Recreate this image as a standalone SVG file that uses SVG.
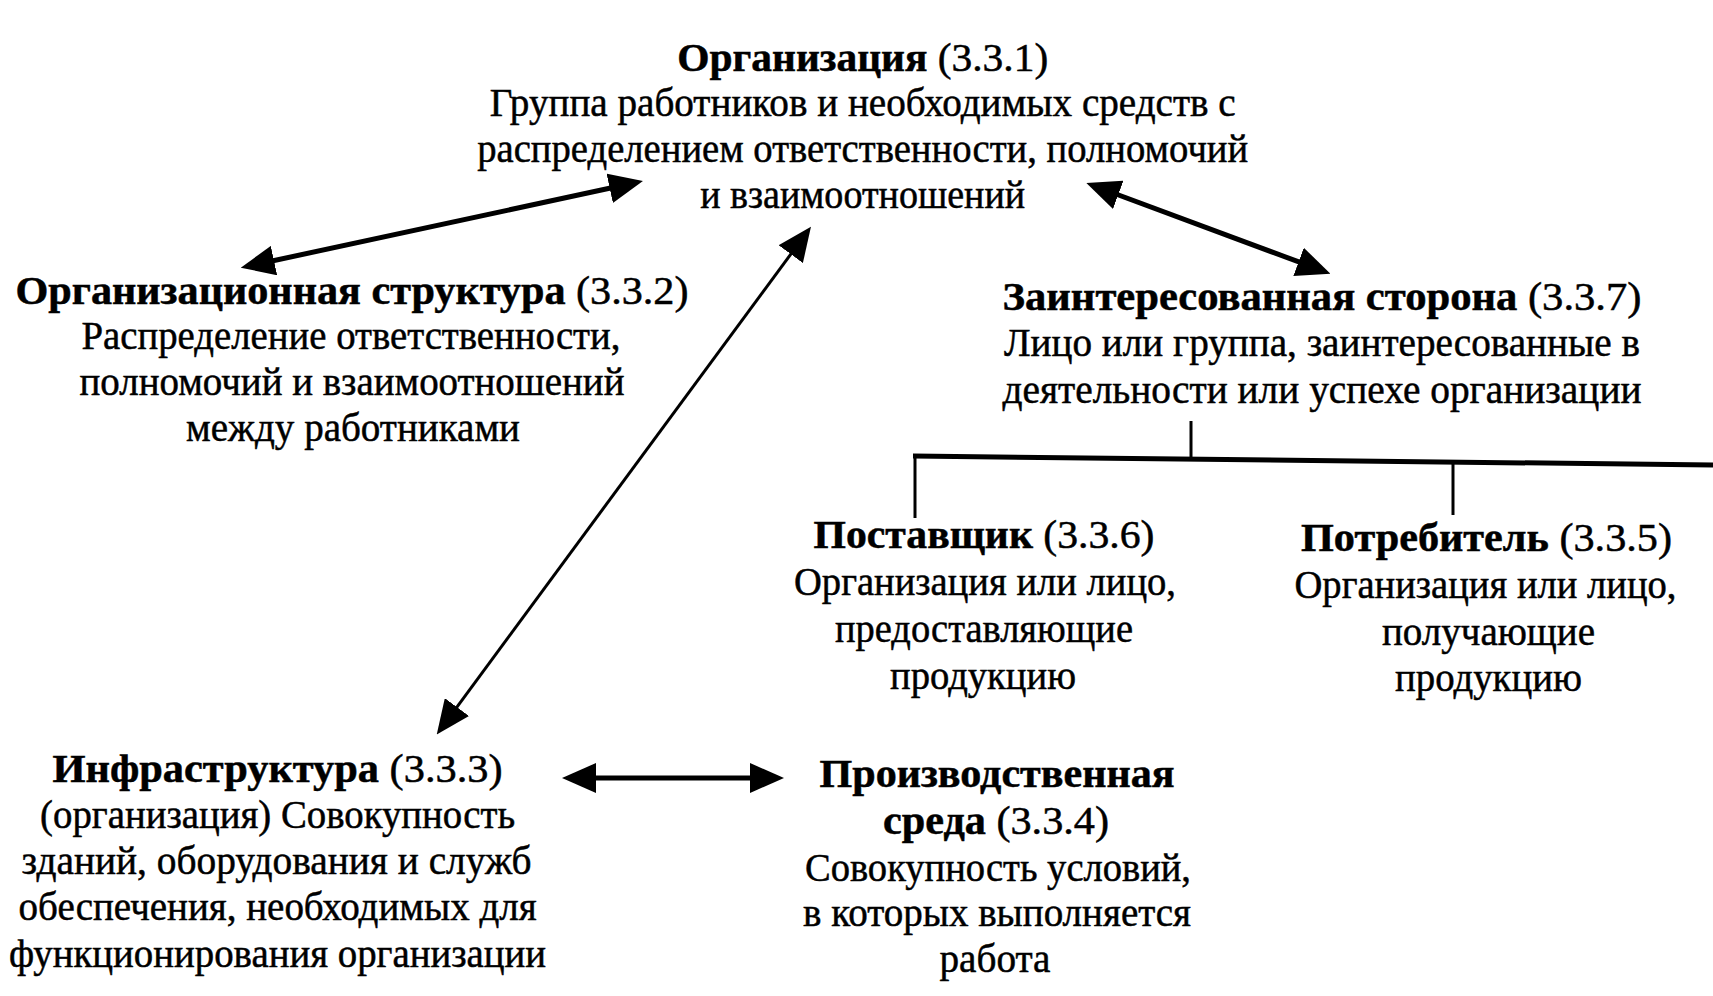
<svg xmlns="http://www.w3.org/2000/svg" width="1713" height="996" viewBox="0 0 1713 996">
<style>
text{font-family:"Liberation Serif","Times New Roman",serif;font-size:40px;fill:#000;stroke:#000;stroke-width:0.5;text-anchor:middle}
.b{font-weight:bold}
.c{stroke:#000;fill:none}
.thick{stroke-width:5}
.thin{stroke-width:3}
</style>
<defs>
<marker id="ah" viewBox="0 0 34 30" markerWidth="34" markerHeight="30" refX="14" refY="15" orient="auto-start-reverse" markerUnits="userSpaceOnUse">
<path d="M0,0 L34,15 L0,30 Z" fill="#000"/>
</marker>
</defs>
<rect width="1713" height="996" fill="#fff"/>
<g id="connectors">
<line class="c thick" x1="260.3" y1="263.5" x2="623.4" y2="185.3" marker-start="url(#ah)" marker-end="url(#ah)"/>
<line class="c thick" x1="1105.1" y1="190" x2="1311.7" y2="266.7" marker-start="url(#ah)" marker-end="url(#ah)"/>
<line class="c thin" x1="799.1" y1="242.9" x2="448.6" y2="718.3" marker-start="url(#ah)" marker-end="url(#ah)"/>
<line class="c thick" x1="582" y1="778" x2="764" y2="778" marker-start="url(#ah)" marker-end="url(#ah)"/>
<line class="c thin" x1="1191" y1="421" x2="1191" y2="458"/>
<line class="c thick" x1="913" y1="456" x2="1713" y2="465"/>
<line class="c thin" x1="915" y1="455" x2="915" y2="518"/>
<line class="c thin" x1="1453" y1="462" x2="1453" y2="515"/>
</g>
<g id="organization">
<text x="862.7" y="70.6" textLength="371" lengthAdjust="spacingAndGlyphs"><tspan class="b">Организация</tspan> (3.3.1)</text>
<text x="862.7" y="116.4" textLength="746" lengthAdjust="spacingAndGlyphs">Группа работников и необходимых средств с</text>
<text x="862.7" y="162.2" textLength="771" lengthAdjust="spacingAndGlyphs">распределением ответственности, полномочий</text>
<text x="862.7" y="208" textLength="325" lengthAdjust="spacingAndGlyphs">и взаимоотношений</text>
</g>
<g id="org-structure">
<text x="352" y="303.5" textLength="673" lengthAdjust="spacingAndGlyphs"><tspan class="b">Организационная структура</tspan> (3.3.2)</text>
<text x="351" y="349" textLength="539" lengthAdjust="spacingAndGlyphs">Распределение ответственности,</text>
<text x="352" y="395" textLength="545" lengthAdjust="spacingAndGlyphs">полномочий и взаимоотношений</text>
<text x="353" y="441" textLength="334" lengthAdjust="spacingAndGlyphs">между работниками</text>
</g>
<g id="interested-party">
<text x="1322" y="309.5" textLength="639" lengthAdjust="spacingAndGlyphs"><tspan class="b">Заинтересованная сторона</tspan> (3.3.7)</text>
<text x="1322" y="356" textLength="636" lengthAdjust="spacingAndGlyphs">Лицо или группа, заинтересованные в</text>
<text x="1322" y="403" textLength="639" lengthAdjust="spacingAndGlyphs">деятельности или успехе организации</text>
</g>
<g id="supplier">
<text x="984" y="548" textLength="341" lengthAdjust="spacingAndGlyphs"><tspan class="b">Поставщик</tspan> (3.3.6)</text>
<text x="985" y="595" textLength="382" lengthAdjust="spacingAndGlyphs">Организация или лицо,</text>
<text x="984" y="642" textLength="298" lengthAdjust="spacingAndGlyphs">предоставляющие</text>
<text x="983" y="688.5" textLength="186" lengthAdjust="spacingAndGlyphs">продукцию</text>
</g>
<g id="consumer">
<text x="1486.5" y="551" textLength="371" lengthAdjust="spacingAndGlyphs"><tspan class="b">Потребитель</tspan> (3.3.5)</text>
<text x="1485.5" y="598" textLength="382" lengthAdjust="spacingAndGlyphs">Организация или лицо,</text>
<text x="1488.5" y="645" textLength="213" lengthAdjust="spacingAndGlyphs">получающие</text>
<text x="1488.5" y="690.5" textLength="187" lengthAdjust="spacingAndGlyphs">продукцию</text>
</g>
<g id="infrastructure">
<text x="277.6" y="782" textLength="450" lengthAdjust="spacingAndGlyphs"><tspan class="b">Инфраструктура</tspan> (3.3.3)</text>
<text x="277.6" y="828" textLength="475" lengthAdjust="spacingAndGlyphs">(организация) Совокупность</text>
<text x="276.6" y="873.6" textLength="510" lengthAdjust="spacingAndGlyphs">зданий, оборудования и служб</text>
<text x="277.6" y="920" textLength="518" lengthAdjust="spacingAndGlyphs">обеспечения, необходимых для</text>
<text x="277.6" y="967" textLength="537" lengthAdjust="spacingAndGlyphs">функционирования организации</text>
</g>
<g id="work-environment">
<text x="997" y="787" textLength="355" lengthAdjust="spacingAndGlyphs" class="b">Производственная</text>
<text x="996" y="834" textLength="226" lengthAdjust="spacingAndGlyphs"><tspan class="b">среда</tspan> (3.3.4)</text>
<text x="998" y="880.6" textLength="386" lengthAdjust="spacingAndGlyphs">Совокупность условий,</text>
<text x="997" y="926" textLength="388" lengthAdjust="spacingAndGlyphs">в которых выполняется</text>
<text x="995" y="972" textLength="111" lengthAdjust="spacingAndGlyphs">работа</text>
</g>
</svg>
